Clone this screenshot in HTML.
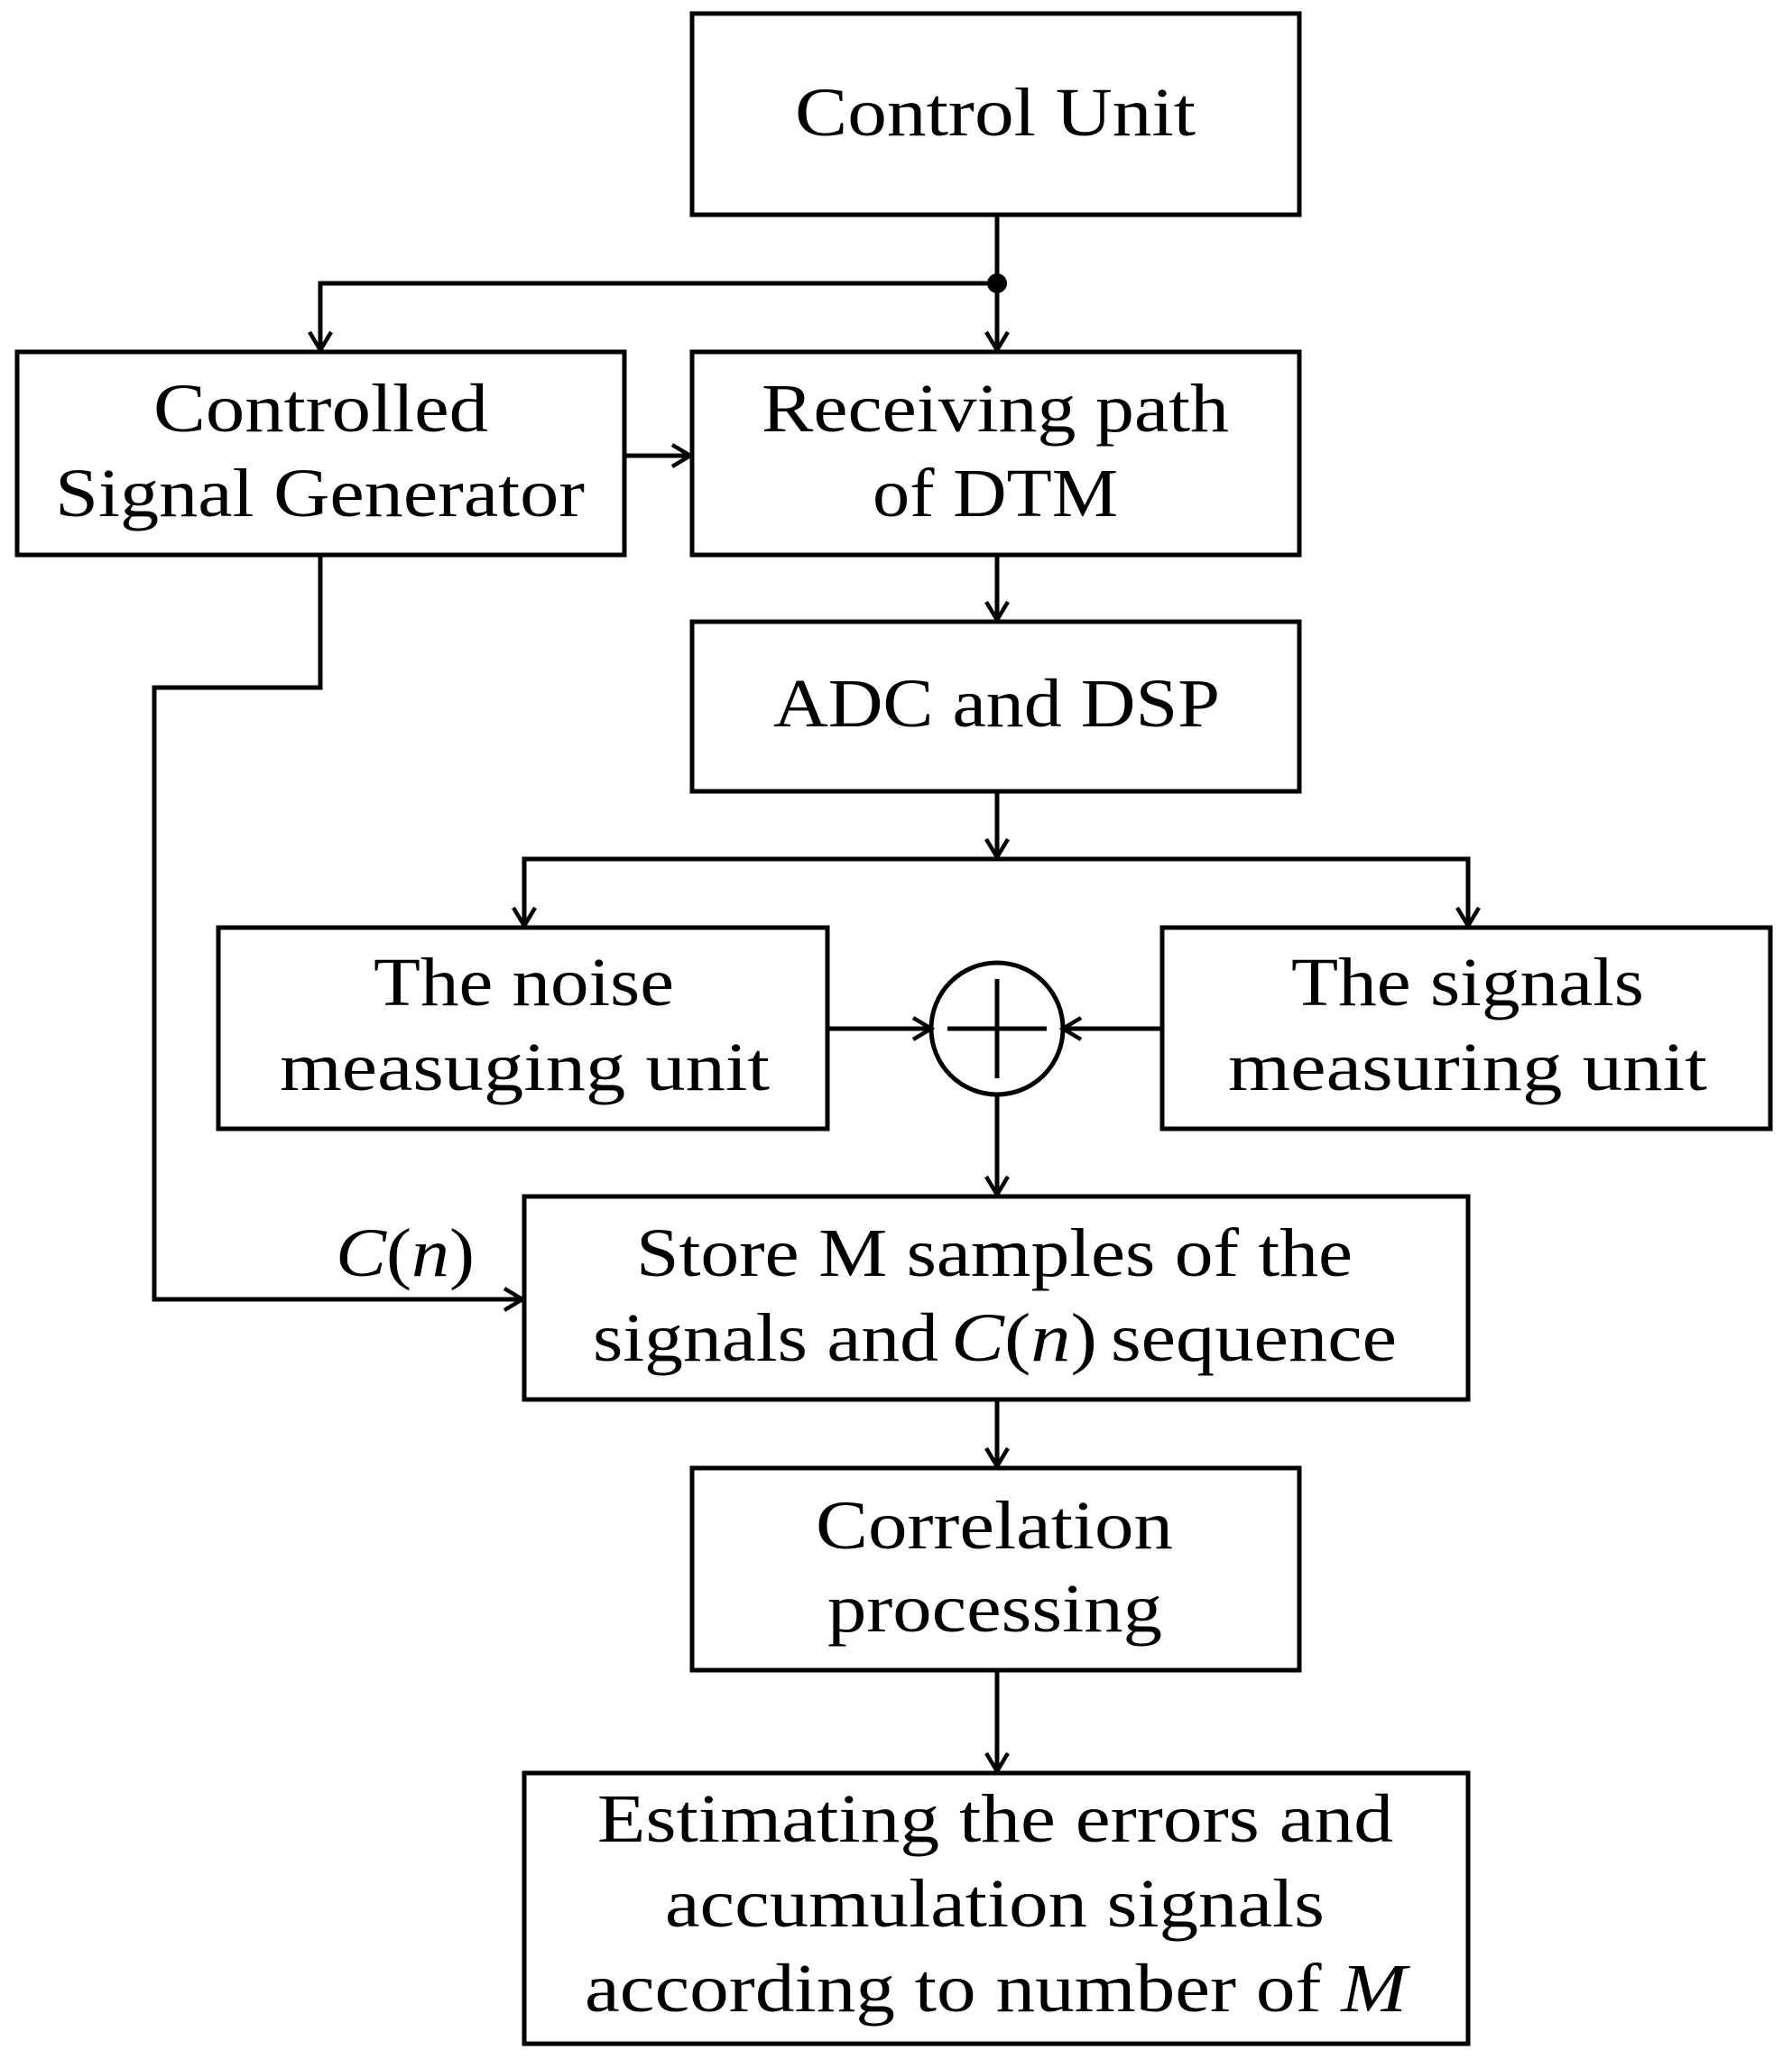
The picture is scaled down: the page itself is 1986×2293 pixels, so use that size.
<!DOCTYPE html>
<html><head><meta charset="utf-8"><style>html,body{margin:0;padding:0;background:#fff}</style></head>
<body>
<svg width="1986" height="2288" viewBox="0 0 1986 2288" xmlns="http://www.w3.org/2000/svg">
<g fill="none" stroke="#000" stroke-width="5">
<rect x="767" y="15" width="673" height="223"/>
<rect x="19" y="390" width="673" height="225"/>
<rect x="767" y="390" width="673" height="225"/>
<rect x="767" y="689" width="673" height="188"/>
<rect x="242" y="1028" width="675" height="223"/>
<rect x="1288" y="1028" width="674" height="223"/>
<circle cx="1105" cy="1140" r="73"/>
<line x1="1105" y1="1085" x2="1105" y2="1195"/>
<line x1="1050" y1="1140" x2="1160" y2="1140"/>
<rect x="581" y="1326" width="1046" height="225"/>
<rect x="767" y="1627" width="673" height="224"/>
<rect x="581" y="1965" width="1046" height="300"/>
<polyline points="1105,238 1105,388"/>
<polyline points="1105,314 355,314 355,388"/>
<polyline points="692,505 765,505"/>
<polyline points="1105,615 1105,687"/>
<polyline points="1105,877 1105,950"/>
<polyline points="581,1026 581,952 1627,952 1627,1026"/>
<polyline points="917,1140 1030,1140"/>
<polyline points="1288,1140 1180,1140"/>
<polyline points="1105,1213 1105,1324"/>
<polyline points="355,615 355,762 171,762 171,1440 579,1440"/>
<polyline points="1105,1551 1105,1625"/>
<polyline points="1105,1851 1105,1963"/>
<g stroke-width="4.5">
<polyline points="1093,368 1105,388 1117,368"/>
<polyline points="343,368 355,388 367,368"/>
<polyline points="745,493 765,505 745,517"/>
<polyline points="1093,667 1105,687 1117,667"/>
<polyline points="1093,930 1105,950 1117,930"/>
<polyline points="569,1006 581,1026 593,1006"/>
<polyline points="1615,1006 1627,1026 1639,1006"/>
<polyline points="1012,1128 1032,1140 1012,1152"/>
<polyline points="1198,1128 1178,1140 1198,1152"/>
<polyline points="1093,1304 1105,1324 1117,1304"/>
<polyline points="559,1428 579,1440 559,1452"/>
<polyline points="1093,1605 1105,1625 1117,1605"/>
<polyline points="1093,1943 1105,1963 1117,1943"/>
</g>
</g>
<circle cx="1105" cy="314" r="11" fill="#000"/>
<g font-family="'Liberation Serif', serif" font-size="76" fill="#000" text-anchor="start">
<text x="881" y="150" textLength="444" lengthAdjust="spacingAndGlyphs">Control Unit</text>
<text x="170" y="478" textLength="371" lengthAdjust="spacingAndGlyphs">Controlled</text>
<text x="61" y="572" textLength="587" lengthAdjust="spacingAndGlyphs">Signal Generator</text>
<text x="844" y="478" textLength="518" lengthAdjust="spacingAndGlyphs">Receiving path</text>
<text x="967" y="572" textLength="272" lengthAdjust="spacingAndGlyphs">of DTM</text>
<text x="857" y="805" textLength="495" lengthAdjust="spacingAndGlyphs">ADC and DSP</text>
<text x="414" y="1114" textLength="333" lengthAdjust="spacingAndGlyphs">The noise</text>
<text x="310" y="1208" textLength="543" lengthAdjust="spacingAndGlyphs">measuging unit</text>
<text x="1431" y="1114" textLength="391" lengthAdjust="spacingAndGlyphs">The signals</text>
<text x="1361" y="1208" textLength="531" lengthAdjust="spacingAndGlyphs">measuring unit</text>
<text x="705" y="1414" textLength="794" lengthAdjust="spacingAndGlyphs">Store M samples of the</text>
<text x="657" y="1508" textLength="383" lengthAdjust="spacingAndGlyphs">signals and</text>
<text x="1054" y="1508" textLength="162" lengthAdjust="spacingAndGlyphs"><tspan font-style="italic">C</tspan>(<tspan font-style="italic">n</tspan>)</text>
<text x="1231" y="1508" textLength="317" lengthAdjust="spacingAndGlyphs">sequence</text>
<text x="372" y="1414" textLength="154" lengthAdjust="spacingAndGlyphs"><tspan font-style="italic">C</tspan>(<tspan font-style="italic">n</tspan>)</text>
<text x="904" y="1716" textLength="396" lengthAdjust="spacingAndGlyphs">Correlation</text>
<text x="917" y="1808" textLength="371" lengthAdjust="spacingAndGlyphs">processing</text>
<text x="662" y="2041" textLength="882" lengthAdjust="spacingAndGlyphs">Estimating the errors and</text>
<text x="737" y="2135" textLength="731" lengthAdjust="spacingAndGlyphs">accumulation signals</text>
<text x="648" y="2229" textLength="911" lengthAdjust="spacingAndGlyphs">according to number of <tspan font-style="italic">M</tspan></text>
</g>
</svg>
</body></html>
